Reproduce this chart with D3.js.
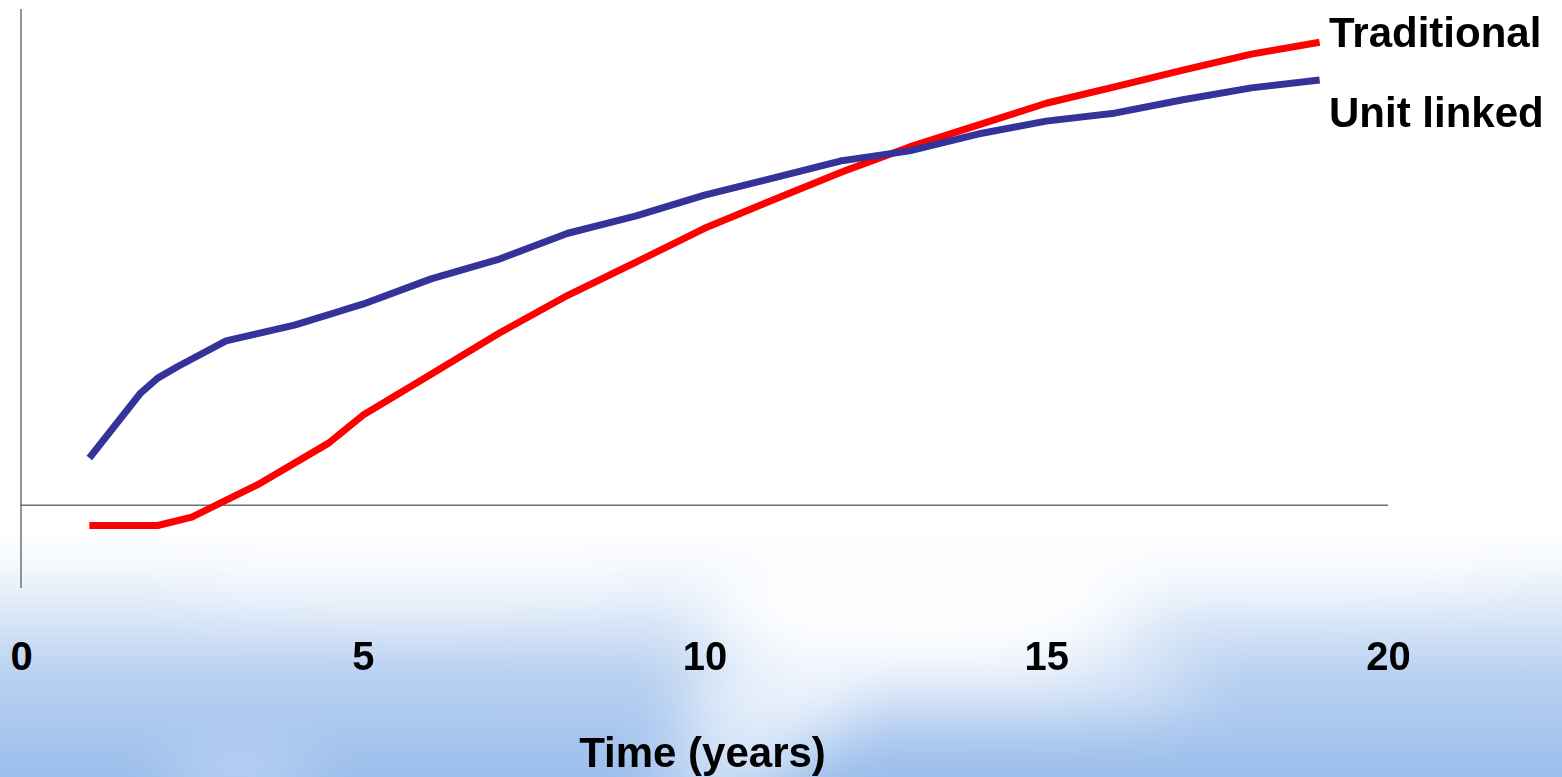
<!DOCTYPE html>
<html>
<head>
<meta charset="utf-8">
<script src="https://cdn.jsdelivr.net/npm/d3@7"></script>
<style>
  html, body { margin: 0; padding: 0; background: #ffffff; }
  svg { display: block; }
  text { font-family: "Liberation Sans", Arial, sans-serif; font-weight: bold; fill: #000; }
</style>
</head>
<body>
<svg id="chart" width="1562" height="777"></svg>
<script>
// Time in years and relative value of each policy type
const traditionalYears  = [1, 2, 2.5, 3.5, 4.5, 5, 6, 7, 8, 9, 10, 11, 12, 13, 14, 15, 16, 17, 18, 19];
const traditionalValues = [-4.1, -4.1, -2.4, 4.4, 12.5, 18.1, 26.4, 34.7, 42.3, 49.0, 55.8, 61.5, 67.1, 72.2, 76.6, 81.0, 84.3, 87.7, 90.9, 93.3];

const unitLinkedYears  = [1, 1.75, 2, 2.3, 3, 4, 5, 6, 7, 8, 9, 10, 11, 12, 13, 14, 15, 16, 17, 18, 19];
const unitLinkedValues = [9.5, 22.6, 25.6, 28.0, 33.1, 36.3, 40.5, 45.6, 49.6, 54.8, 58.3, 62.5, 65.9, 69.4, 71.4, 74.8, 77.4, 79.0, 81.7, 84.1, 85.7];

const seriesNames = ["Traditional", "Unit linked"];
const xTicks = [0, 5, 10, 15, 20];
const xTitle = "Time (years)";

const svg = d3.select("#chart");
const W = 1562, H = 777;

// Sky backdrop along the bottom
const defs = svg.append("defs");
const sky = defs.append("linearGradient").attr("id", "sky")
  .attr("x1", 0).attr("y1", 0).attr("x2", 0).attr("y2", 1);
[[0, "#ffffff"], [0.15, "#f3f7fd"], [0.35, "#d9e6f7"], [0.6, "#b8d0f1"], [1, "#9bbeec"]]
  .forEach(([o, c]) => sky.append("stop").attr("offset", o).attr("stop-color", c));
defs.append("filter").attr("id", "soft")
  .attr("x", "-50%").attr("y", "-50%").attr("width", "200%").attr("height", "200%")
  .append("feGaussianBlur").attr("stdDeviation", 32);

svg.append("rect").attr("width", W).attr("height", H).attr("fill", "#ffffff");
svg.append("rect").attr("x", 0).attr("y", 530).attr("width", W).attr("height", H - 530)
  .attr("fill", "url(#sky)");

const clouds = svg.append("g").attr("filter", "url(#soft)");
[
  { cx: 920, cy: 600, rx: 230, ry: 60, o: 0.95 },
  { cx: 1000, cy: 680, rx: 210, ry: 30, o: 0.65 },
  { cx: 770, cy: 700, rx: 90, ry: 50, o: 0.7 },
  { cx: 720, cy: 775, rx: 70, ry: 20, o: 0.8 },
  { cx: 240, cy: 780, rx: 80, ry: 16, o: 0.6 },
  { cx: 420, cy: 575, rx: 260, ry: 28, o: 0.55 },
  { cx: 1300, cy: 560, rx: 220, ry: 25, o: 0.7 }
].forEach(c => clouds.append("ellipse")
  .attr("cx", c.cx).attr("cy", c.cy).attr("rx", c.rx).attr("ry", c.ry)
  .attr("fill", "#ffffff").attr("opacity", c.o));

// Scales
const x = d3.scaleLinear().domain([0, 20]).range([21, 1388]);
const y = d3.scaleLinear().domain([-16.7, 100]).range([588, 9]);

// Axes: vertical axis line and the zero line
svg.append("line")
  .attr("x1", x(0)).attr("x2", x(0)).attr("y1", y(100)).attr("y2", y(-16.7))
  .attr("stroke", "#707070").attr("stroke-width", 1.5);
svg.append("line")
  .attr("x1", x(0) - 1).attr("x2", x(20)).attr("y1", y(0)).attr("y2", y(0))
  .attr("stroke", "#707070").attr("stroke-width", 1.5);

// Tick labels along the bottom
const xAxis = d3.axisBottom(x).tickValues(xTicks).tickSize(0).tickPadding(0)
  .tickFormat(d3.format("d"));
const gx = svg.append("g").attr("transform", "translate(0,642)").call(xAxis);
gx.select(".domain").remove();
gx.selectAll("text")
  .attr("font-size", 40).attr("font-family", "Liberation Sans, Arial, sans-serif")
  .attr("font-weight", "bold").attr("fill", "#000").attr("dy", "0.71em");

svg.append("text")
  .attr("x", x(10) - 2).attr("y", 767)
  .attr("text-anchor", "middle").attr("font-size", 42)
  .text(xTitle);

// Series lines
const line = d3.line().x(d => x(d[0])).y(d => y(d[1]));
const series = [
  { name: seriesNames[0], color: "#ff0000", pts: d3.zip(traditionalYears, traditionalValues) },
  { name: seriesNames[1], color: "#333399", pts: d3.zip(unitLinkedYears, unitLinkedValues) }
];
svg.selectAll("path.series").data(series).join("path")
  .attr("class", "series")
  .attr("d", d => line(d.pts))
  .attr("fill", "none")
  .attr("stroke", d => d.color)
  .attr("stroke-width", 7)
  .attr("stroke-linejoin", "round");

// Labels at the right end of each line
svg.selectAll("text.label").data(series).join("text")
  .attr("class", "label")
  .attr("x", 1329)
  .attr("y", (d, i) => [47, 127][i])
  .attr("font-size", 42)
  .text(d => d.name);
</script>
</body>
</html>
